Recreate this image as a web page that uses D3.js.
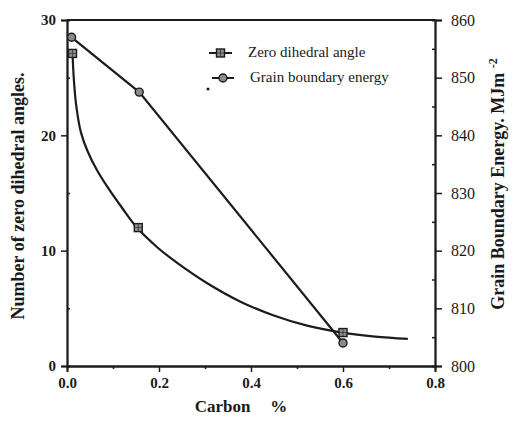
<!DOCTYPE html>
<html>
<head>
<meta charset="utf-8">
<script src="https://cdn.jsdelivr.net/npm/d3@7/dist/d3.min.js"></script>
<style>
  html, body { margin: 0; padding: 0; background: #fff; }
  svg { display: block; }
  text { font-family: "Liberation Serif", "DejaVu Serif", serif; fill: #1a1a1a; }
</style>
</head>
<body>
<svg id="chart" width="515" height="421"></svg>
<script>
// Measured samples: carbon content (%) for each specimen
const carbon = [0.012, 0.155, 0.6];
const zeroDihedral = [27.1, 12.0, 2.9];          // count of zero dihedral angles
const carbonEnergy = [0.01, 0.157, 0.6];
const boundaryEnergy = [857, 847.5, 804];         // MJ m^-2

// Fitted decay curve through the zero dihedral angle counts
const fitCarbon = [0.012, 0.015, 0.020, 0.030, 0.045, 0.065, 0.090, 0.120, 0.152, 0.196, 0.241, 0.304, 0.376, 0.448, 0.522, 0.598, 0.670, 0.741];
const fitCount  = [27.1, 24.8, 22.6, 20.3, 18.6, 17.0, 15.4, 13.7, 12.0, 10.3, 8.9, 7.2, 5.6, 4.4, 3.5, 2.9, 2.55, 2.35];

const xTicks = [0, 0.2, 0.4, 0.6, 0.8];
const xMinor = [0.1, 0.3, 0.5, 0.7];
const yLeftTicks = [0, 10, 20, 30];
const yLeftMinor = [5, 15, 25];
const yRightTicks = [800, 810, 820, 830, 840, 850, 860];
const yRightMinor = [805, 815, 825, 835, 845, 855];

const legendLabels = ["Zero dihedral angle", "Grain boundary energy"];

const svg = d3.select("#chart");
const m = { left: 67, right: 435, top: 20, bottom: 366 };
const ink = "#1c1c1c";

const x = d3.scaleLinear().domain([0, 0.8]).range([m.left, m.right]);
const yL = d3.scaleLinear().domain([0, 30]).range([m.bottom, m.top]);
const yR = d3.scaleLinear().domain([800, 860]).range([m.bottom, m.top]);

// Frame: top border
svg.append("line").attr("x1", m.left).attr("x2", m.right).attr("y1", m.top).attr("y2", m.top)
  .attr("stroke", ink).attr("stroke-width", 1.8);

// Axes
const bottomAxis = svg.append("g").attr("transform", `translate(0,${m.bottom})`)
  .call(d3.axisBottom(x).tickValues(xTicks).tickFormat(d3.format(".1f")).tickSize(6).tickPadding(5));
const bottomMinor = svg.append("g").attr("transform", `translate(0,${m.bottom})`)
  .call(d3.axisBottom(x).tickValues(xMinor).tickSize(3).tickFormat(""));

const leftAxis = svg.append("g").attr("transform", `translate(${m.left},0)`)
  .call(d3.axisLeft(yL).tickValues(yLeftTicks).tickSize(6).tickPadding(5));
const leftMinor = svg.append("g").attr("transform", `translate(${m.left},0)`)
  .call(d3.axisRight(yL).tickValues(yLeftMinor).tickSize(3).tickFormat(""));

const rightAxis = svg.append("g").attr("transform", `translate(${m.right},0)`)
  .call(d3.axisRight(yR).tickValues(yRightTicks).tickSize(7).tickPadding(9));
const rightMinor = svg.append("g").attr("transform", `translate(${m.right},0)`)
  .call(d3.axisLeft(yR).tickValues(yRightMinor).tickSize(3).tickFormat(""));

[bottomAxis, bottomMinor, leftAxis, leftMinor, rightAxis, rightMinor].forEach(g => {
  g.select(".domain").attr("stroke", ink).attr("stroke-width", 1.8);
  g.selectAll(".tick line").attr("stroke", ink).attr("stroke-width", 1.5);
});
bottomAxis.selectAll(".tick text").attr("font-size", 15).attr("font-weight", "bold").attr("fill", ink);
leftAxis.selectAll(".tick text").attr("font-size", 15).attr("font-weight", "bold").attr("fill", ink);
rightAxis.selectAll(".tick text").attr("font-size", 16).attr("fill", ink);

// Axis titles
const xTitle = svg.append("text").attr("x", 241).attr("y", 412).attr("text-anchor", "middle")
  .attr("font-size", 17).attr("font-weight", "bold");
xTitle.append("tspan").text("Carbon");
xTitle.append("tspan").attr("dx", 20).text("%");

svg.append("text").attr("transform", "translate(24,196) rotate(-90)").attr("text-anchor", "middle")
  .attr("font-size", 18).attr("font-weight", "bold").text("Number of zero dihedral angles.");

const rTitle = svg.append("text").attr("transform", "translate(504,184) rotate(-90)").attr("text-anchor", "middle")
  .attr("font-size", 18).attr("font-weight", "bold");
rTitle.append("tspan").text("Grain Boundary Energy. MJm ");
rTitle.append("tspan").attr("baseline-shift", "super").attr("font-size", 12).text("-2");

// Fitted curve for zero dihedral angles
const fitPts = fitCarbon.map((c, i) => [c, fitCount[i]]);
svg.append("path").datum(fitPts)
  .attr("d", d3.line().x(d => x(d[0])).y(d => yL(d[1])).curve(d3.curveCatmullRom.alpha(0.5)))
  .attr("fill", "none").attr("stroke", ink).attr("stroke-width", 2.2);

// Grain boundary energy polyline
const energyPts = carbonEnergy.map((c, i) => [c, boundaryEnergy[i]]);
svg.append("path").datum(energyPts)
  .attr("d", d3.line().x(d => x(d[0])).y(d => yR(d[1])))
  .attr("fill", "none").attr("stroke", ink).attr("stroke-width", 2.2);

// Markers
function square(g, cx, cy) {
  g.append("rect").attr("x", cx - 4).attr("y", cy - 4).attr("width", 8).attr("height", 8)
    .attr("fill", "#8f8f8f").attr("stroke", ink).attr("stroke-width", 1.4);
  g.append("path").attr("d", `M${cx - 4},${cy}H${cx + 4}M${cx},${cy - 4}V${cy + 4}`)
    .attr("stroke", "#333").attr("stroke-width", 0.8);
}
function circle(g, cx, cy) {
  g.append("circle").attr("cx", cx).attr("cy", cy).attr("r", 4)
    .attr("fill", "#8a8a8a").attr("stroke", ink).attr("stroke-width", 1.4);
}

const marks = svg.append("g");
carbon.forEach((c, i) => square(marks, x(c), yL(zeroDihedral[i])));
carbonEnergy.forEach((c, i) => circle(marks, x(c), yR(boundaryEnergy[i])));

// Legend
const legend = svg.append("g");
const rows = [{ y: 53, x0: 209, x1: 232, mark: square, tx: 248 }, { y: 78, x0: 212, x1: 234, mark: circle, tx: 250 }];
rows.forEach((r, i) => {
  legend.append("line").attr("x1", r.x0).attr("x2", r.x1).attr("y1", r.y).attr("y2", r.y)
    .attr("stroke", ink).attr("stroke-width", 2);
  r.mark(legend, (r.x0 + r.x1) / 2, r.y);
  legend.append("text").attr("x", r.tx).attr("y", r.y + 4).attr("font-size", 15).text(legendLabels[i]);
});
legend.append("circle").attr("cx", 208).attr("cy", 89).attr("r", 1.5).attr("fill", ink);
</script>
</body>
</html>
